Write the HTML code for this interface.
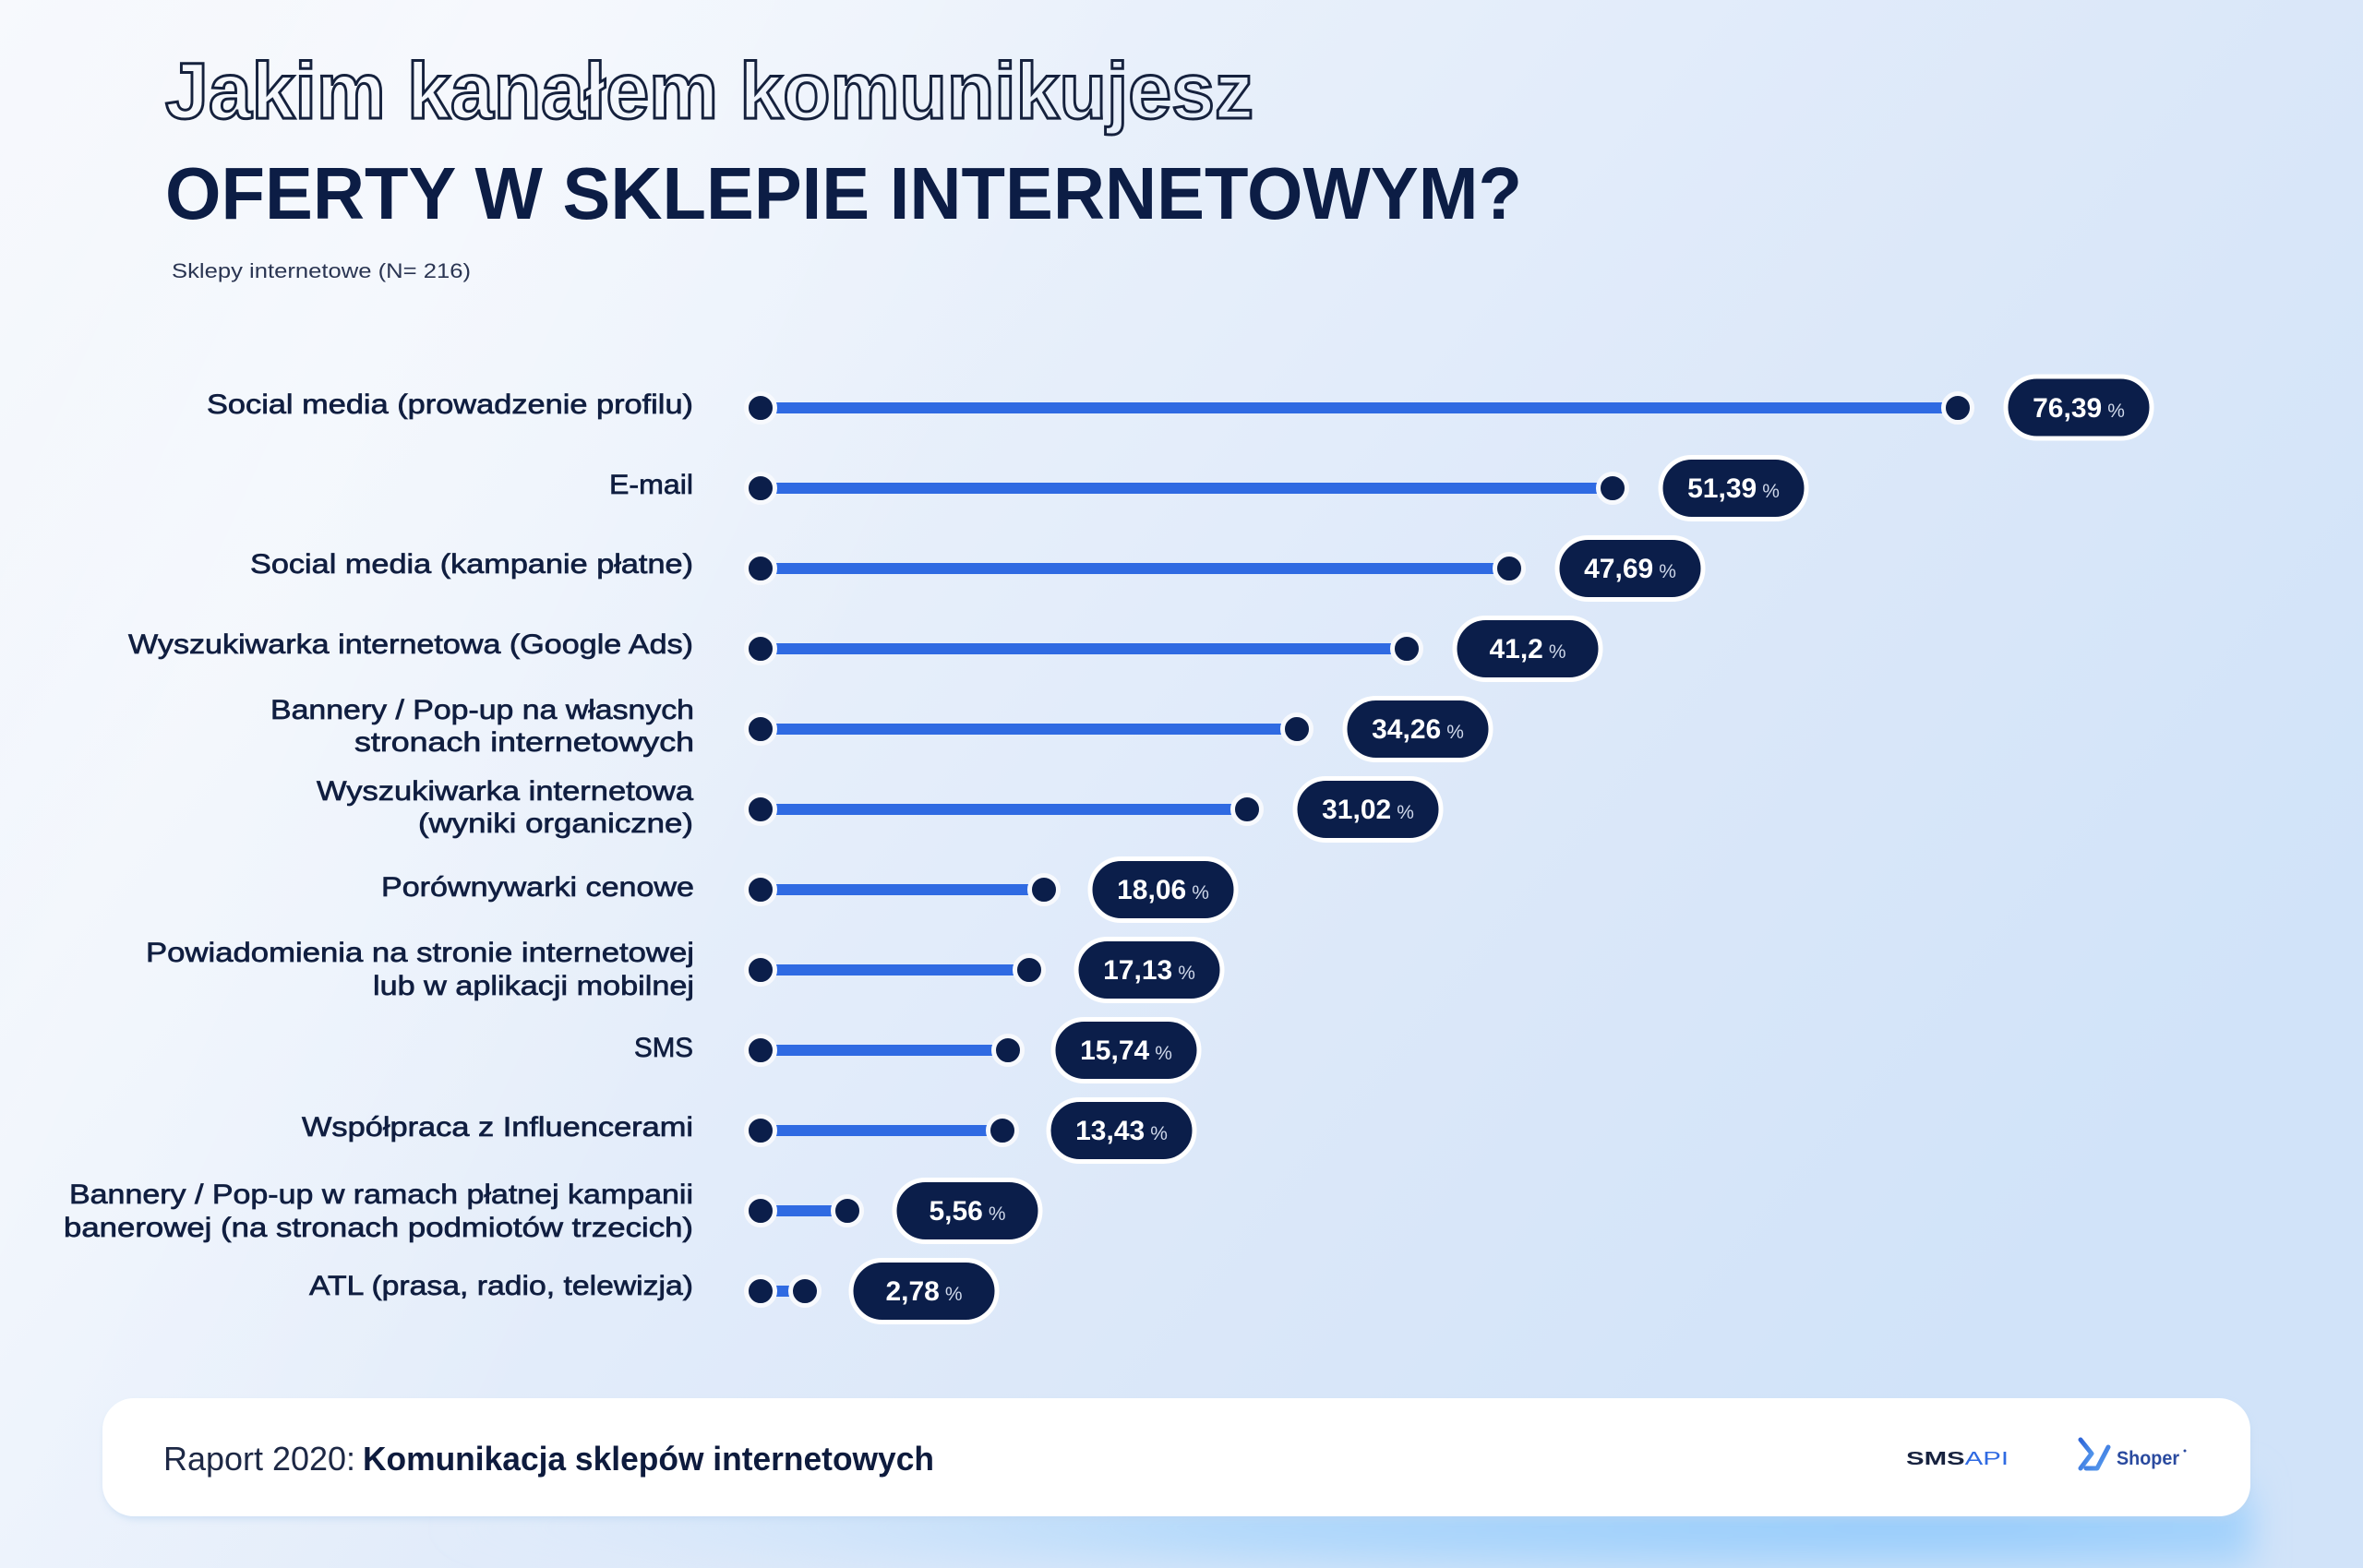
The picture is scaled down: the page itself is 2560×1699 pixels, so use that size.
<!DOCTYPE html>
<html>
<head>
<meta charset="utf-8">
<style>
html,body{margin:0;padding:0;width:2560px;height:1699px;overflow:hidden;background:#eef3fb;}
svg{display:block;}
text{font-family:"Liberation Sans",sans-serif;}
</style>
</head>
<body>
<svg width="2560" height="1699" viewBox="0 0 2560 1699" xmlns="http://www.w3.org/2000/svg">
<defs>
  <linearGradient id="bg" x1="0" y1="0" x2="1" y2="0.55">
    <stop offset="0" stop-color="#f7f9fd"/>
    <stop offset="0.35" stop-color="#eaf1fb"/>
    <stop offset="0.7" stop-color="#dce8f9"/>
    <stop offset="1" stop-color="#d1e3f9"/>
  </linearGradient>
  <linearGradient id="band" x1="0" y1="0" x2="1" y2="0.3">
    <stop offset="0" stop-color="#ffffff" stop-opacity="0"/>
    <stop offset="0.2" stop-color="#ffffff" stop-opacity="0.35"/>
    <stop offset="0.45" stop-color="#ffffff" stop-opacity="0"/>
  </linearGradient>
  <radialGradient id="glow" cx="0.85" cy="0.5" r="0.7">
    <stop offset="0" stop-color="#90c9fb"/>
    <stop offset="0.5" stop-color="#b3d9fb"/>
    <stop offset="1" stop-color="#d6e8fb" stop-opacity="0"/>
  </radialGradient>
  <linearGradient id="shop" x1="0" y1="0" x2="1" y2="1">
    <stop offset="0" stop-color="#2f66d8"/>
    <stop offset="1" stop-color="#5aa0f0"/>
  </linearGradient>
  <filter id="blur" x="-20%" y="-50%" width="140%" height="200%"><feGaussianBlur stdDeviation="18"/></filter>
  <filter id="sh" x="-5%" y="-30%" width="110%" height="160%"><feGaussianBlur stdDeviation="4"/></filter>
</defs>

<rect x="0" y="0" width="2560" height="1699" fill="url(#bg)"/>
<rect x="0" y="0" width="2560" height="1699" fill="url(#band)"/>

<!-- bottom glow -->
<rect x="120" y="1600" width="2320" height="110" fill="url(#glow)" filter="url(#blur)"/>

<!-- Titles -->
<text x="179" y="128" font-size="86" font-weight="700" fill="none" stroke="#15213d" stroke-width="3" textLength="1179" lengthAdjust="spacingAndGlyphs">Jakim kanałem komunikujesz</text>
<text x="179" y="237" font-size="80" font-weight="700" fill="#0c1d45" textLength="1470" lengthAdjust="spacingAndGlyphs">OFERTY W SKLEPIE INTERNETOWYM?</text>
<text x="186" y="301" font-size="22" fill="#2a3552" textLength="324" lengthAdjust="spacingAndGlyphs">Sklepy internetowe (N= 216)</text>

<!-- Labels -->
<g font-size="30" fill="#101e40" stroke="#101e40" stroke-width="0.7">
  <text x="224" y="448" textLength="527" lengthAdjust="spacingAndGlyphs">Social media (prowadzenie profilu)</text>
  <text x="660" y="535" textLength="91" lengthAdjust="spacingAndGlyphs">E-mail</text>
  <text x="271" y="621" textLength="480" lengthAdjust="spacingAndGlyphs">Social media (kampanie płatne)</text>
  <text x="139" y="708" textLength="612" lengthAdjust="spacingAndGlyphs">Wyszukiwarka internetowa (Google Ads)</text>
  <text x="293" y="779" textLength="459" lengthAdjust="spacingAndGlyphs">Bannery / Pop-up na własnych</text>
  <text x="384" y="814" textLength="368" lengthAdjust="spacingAndGlyphs">stronach internetowych</text>
  <text x="343" y="867" textLength="408" lengthAdjust="spacingAndGlyphs">Wyszukiwarka internetowa</text>
  <text x="453" y="902" textLength="298" lengthAdjust="spacingAndGlyphs">(wyniki organiczne)</text>
  <text x="413" y="971" textLength="339" lengthAdjust="spacingAndGlyphs">Porównywarki cenowe</text>
  <text x="158" y="1042" textLength="594" lengthAdjust="spacingAndGlyphs">Powiadomienia na stronie internetowej</text>
  <text x="404" y="1078" textLength="348" lengthAdjust="spacingAndGlyphs">lub w aplikacji mobilnej</text>
  <text x="687" y="1145" textLength="64" lengthAdjust="spacingAndGlyphs">SMS</text>
  <text x="327" y="1231" textLength="424" lengthAdjust="spacingAndGlyphs">Współpraca z Influencerami</text>
  <text x="75" y="1304" textLength="676" lengthAdjust="spacingAndGlyphs">Bannery / Pop-up w ramach płatnej kampanii</text>
  <text x="69" y="1340" textLength="682" lengthAdjust="spacingAndGlyphs">banerowej (na stronach podmiotów trzecich)</text>
  <text x="335" y="1403" textLength="416" lengthAdjust="spacingAndGlyphs">ATL (prasa, radio, telewizja)</text>
</g>

<!-- Bars -->
<g>
  <rect x="824" y="436" width="1297" height="12" fill="#2f6ae2"/>
  <rect x="2173" y="408" width="158" height="67" rx="33.5" fill="#0b1e4a" stroke="#ffffff" stroke-width="5"/>
  <rect x="824" y="523" width="923" height="12" fill="#2f6ae2"/>
  <rect x="1799" y="495.5" width="158" height="67" rx="33.5" fill="#0b1e4a" stroke="#ffffff" stroke-width="5"/>
  <rect x="824" y="610" width="811" height="12" fill="#2f6ae2"/>
  <rect x="1687" y="582.5" width="158" height="67" rx="33.5" fill="#0b1e4a" stroke="#ffffff" stroke-width="5"/>
  <rect x="824" y="697" width="700" height="12" fill="#2f6ae2"/>
  <rect x="1576" y="669.5" width="158" height="67" rx="33.5" fill="#0b1e4a" stroke="#ffffff" stroke-width="5"/>
  <rect x="824" y="784" width="581" height="12" fill="#2f6ae2"/>
  <rect x="1457" y="756.5" width="158" height="67" rx="33.5" fill="#0b1e4a" stroke="#ffffff" stroke-width="5"/>
  <rect x="824" y="871" width="527" height="12" fill="#2f6ae2"/>
  <rect x="1403" y="843.5" width="158" height="67" rx="33.5" fill="#0b1e4a" stroke="#ffffff" stroke-width="5"/>
  <rect x="824" y="958" width="307" height="12" fill="#2f6ae2"/>
  <rect x="1181" y="930.5" width="158" height="67" rx="33.5" fill="#0b1e4a" stroke="#ffffff" stroke-width="5"/>
  <rect x="824" y="1045" width="291" height="12" fill="#2f6ae2"/>
  <rect x="1166" y="1017.5" width="158" height="67" rx="33.5" fill="#0b1e4a" stroke="#ffffff" stroke-width="5"/>
  <rect x="824" y="1132" width="268" height="12" fill="#2f6ae2"/>
  <rect x="1141" y="1104.5" width="158" height="67" rx="33.5" fill="#0b1e4a" stroke="#ffffff" stroke-width="5"/>
  <rect x="824" y="1219" width="262" height="12" fill="#2f6ae2"/>
  <rect x="1136" y="1191.5" width="158" height="67" rx="33.5" fill="#0b1e4a" stroke="#ffffff" stroke-width="5"/>
  <rect x="824" y="1306" width="94" height="12" fill="#2f6ae2"/>
  <rect x="969" y="1278.5" width="158" height="67" rx="33.5" fill="#0b1e4a" stroke="#ffffff" stroke-width="5"/>
  <rect x="824" y="1393" width="48" height="12" fill="#2f6ae2"/>
  <rect x="922" y="1365.5" width="158" height="67" rx="33.5" fill="#0b1e4a" stroke="#ffffff" stroke-width="5"/>
</g>

<!-- Circles -->
<g fill="#0b1e4a" stroke="#f7f9fd" stroke-width="5">
  <circle cx="824" cy="442" r="15.5"/><circle cx="2121" cy="442" r="15.5"/>
  <circle cx="824" cy="529" r="15.5"/><circle cx="1747" cy="529" r="15.5"/>
  <circle cx="824" cy="616" r="15.5"/><circle cx="1635" cy="616" r="15.5"/>
  <circle cx="824" cy="703" r="15.5"/><circle cx="1524" cy="703" r="15.5"/>
  <circle cx="824" cy="790" r="15.5"/><circle cx="1405" cy="790" r="15.5"/>
  <circle cx="824" cy="877" r="15.5"/><circle cx="1351" cy="877" r="15.5"/>
  <circle cx="824" cy="964" r="15.5"/><circle cx="1131" cy="964" r="15.5"/>
  <circle cx="824" cy="1051" r="15.5"/><circle cx="1115" cy="1051" r="15.5"/>
  <circle cx="824" cy="1138" r="15.5"/><circle cx="1092" cy="1138" r="15.5"/>
  <circle cx="824" cy="1225" r="15.5"/><circle cx="1086" cy="1225" r="15.5"/>
  <circle cx="824" cy="1312" r="15.5"/><circle cx="918" cy="1312" r="15.5"/>
  <circle cx="824" cy="1399" r="15.5"/><circle cx="872" cy="1399" r="15.5"/>
</g>

<!-- Pill values -->
<g text-anchor="middle" fill="#ffffff">
  <text x="2252" y="452"><tspan font-size="30" font-weight="700">76,39</tspan><tspan font-size="21" fill="#cfd8ea" dx="6">%</tspan></text>
  <text x="1878" y="539"><tspan font-size="30" font-weight="700">51,39</tspan><tspan font-size="21" fill="#cfd8ea" dx="6">%</tspan></text>
  <text x="1766" y="626"><tspan font-size="30" font-weight="700">47,69</tspan><tspan font-size="21" fill="#cfd8ea" dx="6">%</tspan></text>
  <text x="1655" y="713"><tspan font-size="30" font-weight="700">41,2</tspan><tspan font-size="21" fill="#cfd8ea" dx="6">%</tspan></text>
  <text x="1536" y="800"><tspan font-size="30" font-weight="700">34,26</tspan><tspan font-size="21" fill="#cfd8ea" dx="6">%</tspan></text>
  <text x="1482" y="887"><tspan font-size="30" font-weight="700">31,02</tspan><tspan font-size="21" fill="#cfd8ea" dx="6">%</tspan></text>
  <text x="1260" y="974"><tspan font-size="30" font-weight="700">18,06</tspan><tspan font-size="21" fill="#cfd8ea" dx="6">%</tspan></text>
  <text x="1245" y="1061"><tspan font-size="30" font-weight="700">17,13</tspan><tspan font-size="21" fill="#cfd8ea" dx="6">%</tspan></text>
  <text x="1220" y="1148"><tspan font-size="30" font-weight="700">15,74</tspan><tspan font-size="21" fill="#cfd8ea" dx="6">%</tspan></text>
  <text x="1215" y="1235"><tspan font-size="30" font-weight="700">13,43</tspan><tspan font-size="21" fill="#cfd8ea" dx="6">%</tspan></text>
  <text x="1048" y="1322"><tspan font-size="30" font-weight="700">5,56</tspan><tspan font-size="21" fill="#cfd8ea" dx="6">%</tspan></text>
  <text x="1001" y="1409"><tspan font-size="30" font-weight="700">2,78</tspan><tspan font-size="21" fill="#cfd8ea" dx="6">%</tspan></text>
</g>

<!-- Footer -->
<rect x="113" y="1520" width="2325" height="126" rx="34" fill="#b9d3ef" opacity="0.6" filter="url(#sh)"/>
<rect x="111" y="1515" width="2327" height="128" rx="34" fill="#ffffff"/>
<text x="177" y="1593" font-size="36" fill="#1d2845" textLength="208" lengthAdjust="spacingAndGlyphs">Raport 2020:</text>
<text x="393" y="1593" font-size="36" font-weight="700" fill="#0e1b3d" textLength="619" lengthAdjust="spacingAndGlyphs">Komunikacja sklepów internetowych</text>

<!-- SMSAPI logo -->
<text x="2065" y="1587" font-size="20" font-weight="700" fill="#17223f" textLength="111" lengthAdjust="spacingAndGlyphs">SMS<tspan fill="#2f6ae2" font-weight="400">API</tspan></text>

<!-- Shoper logo -->
<path d="M2254 1560 L2266 1575 L2254 1591" fill="none" stroke="url(#shop)" stroke-width="5" stroke-linejoin="round" stroke-linecap="round"/>
<path d="M2260 1591 L2272 1591 L2284 1568" fill="none" stroke="url(#shop)" stroke-width="5" stroke-linejoin="round" stroke-linecap="round"/>
<text x="2293" y="1587" font-size="21" font-weight="700" fill="#2a4a9f" textLength="68" lengthAdjust="spacingAndGlyphs">Shoper</text>
<circle cx="2367" cy="1572" r="1.5" fill="#2a4a9f"/>
</svg>
</body>
</html>
